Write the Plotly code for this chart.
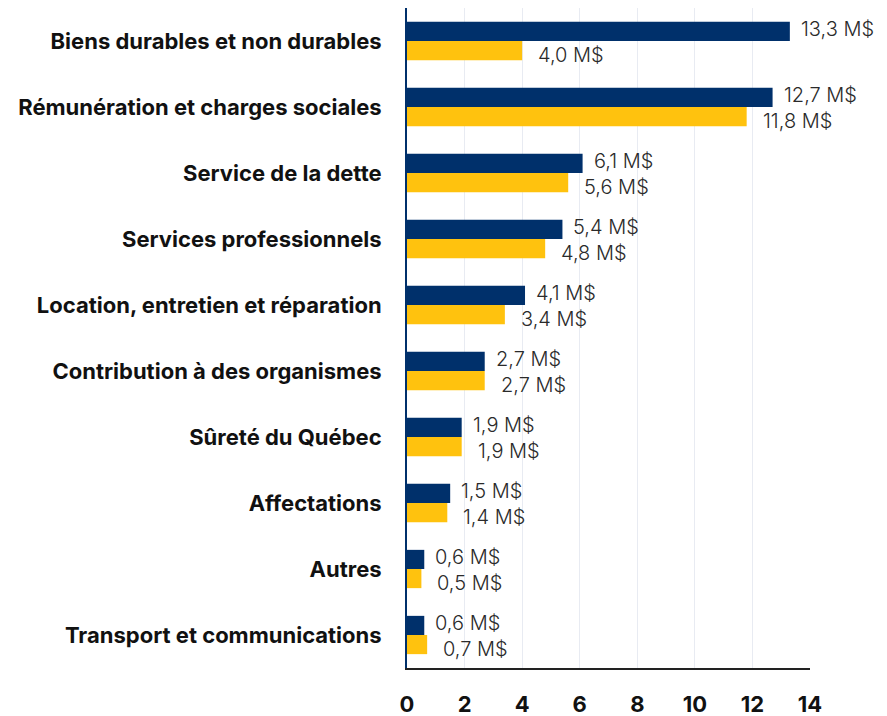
import plotly.graph_objects as go

categories = ["Biens durables et non durables", "Rémunération et charges sociales",
              "Service de la dette", "Services professionnels",
              "Location, entretien et réparation", "Contribution à des organismes",
              "Sûreté du Québec", "Affectations", "Autres",
              "Transport et communications"]
navy_vals = [13.3, 12.7, 6.1, 5.4, 4.1, 2.7, 1.9, 1.5, 0.6, 0.6]
yellow_vals = [4.0, 11.8, 5.6, 4.8, 3.4, 2.7, 1.9, 1.4, 0.5, 0.7]
x_ticks = [0, 2, 4, 6, 8, 10, 12, 14]

NAVY = "#00306B"
YELLOW = "#FFC20E"


def lbl(v):
    return f"{v:.1f}".replace(".", ",") + " M$"


fig = go.Figure()
fig.add_trace(go.Bar(y=categories, x=navy_vals, orientation="h", marker_color=NAVY,
                     marker_line_width=0, hoverinfo="skip"))
fig.add_trace(go.Bar(y=categories, x=yellow_vals, orientation="h", marker_color=YELLOW,
                     marker_line_width=0, hoverinfo="skip"))

# value labels: navy slightly above its bar, yellow slightly below
lab_font = dict(family="Inter", size=20, color="#2a2a2a", weight=300)
for cat, v in zip(categories, navy_vals):
    fig.add_annotation(x=v, y=cat, text=lbl(v), showarrow=False, xanchor="left",
                       xshift=9, yshift=12, font=lab_font)
for cat, v in zip(categories, yellow_vals):
    fig.add_annotation(x=v, y=cat, text=lbl(v), showarrow=False, xanchor="left",
                       xshift=14, yshift=-14, font=lab_font)

fig.update_layout(
    width=887, height=716,
    barmode="group", bargap=0.42, bargroupgap=0,
    showlegend=False,
    plot_bgcolor="white", paper_bgcolor="white",
    margin=dict(l=407, r=77, t=8, b=48),
    font=dict(family="Inter", color="#111111"),
)
fig.update_xaxes(range=[0, 14], tickvals=x_ticks, showgrid=True, gridcolor="#E8EBF2",
                 gridwidth=1, zeroline=False, showline=True, linecolor="#222222",
                 linewidth=2, ticks="", ticklabelstandoff=16, automargin=False,
                 tickfont=dict(family="Inter", size=22, color="#111111", weight="bold"))
fig.update_yaxes(autorange="reversed", showline=True, linecolor=NAVY, linewidth=2,
                 ticks="", ticklabelstandoff=19, showgrid=False, automargin=False,
                 tickfont=dict(family="Inter", size=22, color="#111111", weight="bold"))

# page has a default body margin; remove it so the figure fills the window
fig.write_html("out.html", config={"displayModeBar": False},
               post_script="document.body.style.margin='0';")
